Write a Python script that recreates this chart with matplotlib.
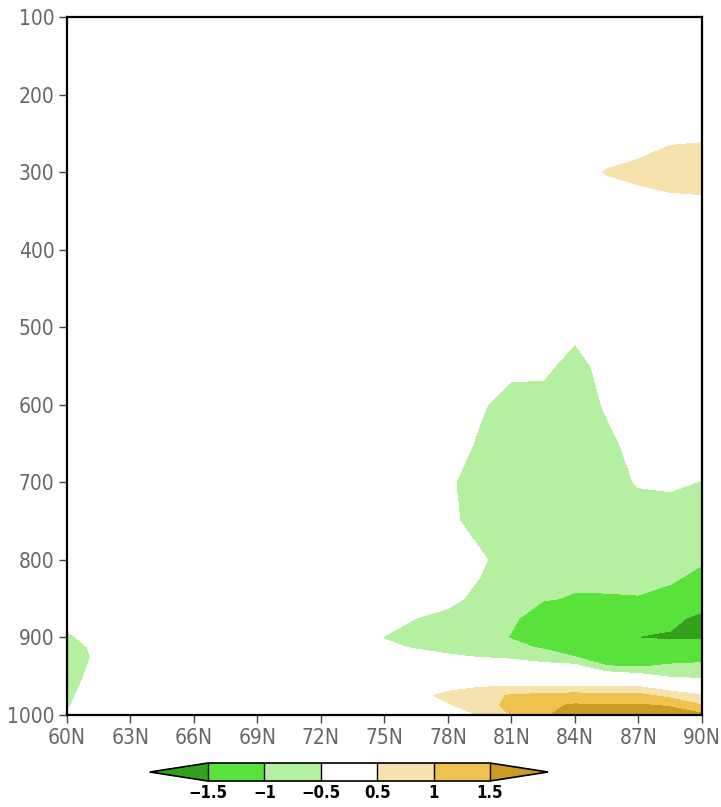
import numpy as np
import matplotlib
matplotlib.use("Agg")
import matplotlib.pyplot as plt

plt.rcParams["font.family"] = ["DejaVu Sans"]
plt.rcParams["font.stretch"] = "condensed"

# latitude grid (deg N) and pressure levels (hPa)
lats = [60, 61.5, 63, 64.5, 66, 67.5, 69, 70.5, 72, 73.5, 75,
        76.5, 78, 79.5, 81, 82.5, 84, 85.5, 87, 88.5, 90]
plev = [100, 150, 200, 250, 300, 350, 400, 450, 500, 550, 600, 650, 700,
        750, 800, 850, 875, 900, 912.5, 925, 937.5, 950, 962.5, 975, 987.5, 1000]

# anomaly field, one row per pressure level
p100 = [0.0, 0.0, 0.0, 0.0, 0.0, 0.0, 0.0, 0.0, 0.0, 0.0, 0.0, 0.0, 0.0, 0.0, 0.0, 0.0, 0.0, 0.0, 0.0, 0.1, 0.1]
p150 = [0.0, 0.0, 0.0, 0.0, 0.0, 0.0, 0.0, 0.0, 0.0, 0.0, 0.0, 0.0, 0.0, 0.0, 0.0, 0.0, 0.1, 0.1, 0.1, 0.1, 0.1]
p200 = [0.0, 0.0, 0.0, 0.0, 0.0, 0.0, 0.0, 0.0, 0.0, 0.0, 0.0, 0.0, 0.0, 0.0, 0.0, 0.1, 0.1, 0.1, 0.2, 0.2, 0.2]
p250 = [0.0, 0.0, 0.0, 0.0, 0.0, 0.0, 0.0, 0.0, 0.0, 0.0, 0.0, 0.0, 0.0, 0.0, 0.0, 0.1, 0.15, 0.25, 0.3, 0.4, 0.42]
p300 = [0.0, 0.0, 0.0, 0.0, 0.0, 0.0, 0.0, 0.0, 0.0, 0.0, 0.0, 0.0, 0.0, 0.0, 0.1, 0.2, 0.35, 0.52, 0.6, 0.72, 0.75]
p350 = [0.0, 0.0, 0.0, 0.0, 0.0, 0.0, 0.0, 0.0, 0.0, 0.0, 0.0, 0.0, 0.0, 0.0, 0.0, 0.1, 0.15, 0.25, 0.3, 0.3, 0.32]
p400 = [0.0, 0.0, 0.0, 0.0, 0.0, 0.0, 0.0, 0.0, 0.0, 0.0, 0.0, 0.0, 0.0, 0.0, 0.0, -0.1, -0.15, 0.0, 0.1, 0.1, 0.1]
p450 = [0.0, 0.0, 0.0, 0.0, 0.0, 0.0, 0.0, 0.0, 0.0, 0.0, 0.0, 0.0, 0.0, 0.0, -0.1, -0.2, -0.3, -0.15, 0.0, 0.0, 0.0]
p500 = [0.0, 0.0, 0.0, 0.0, 0.0, 0.0, 0.0, 0.0, 0.0, 0.0, 0.0, 0.0, 0.0, -0.1, -0.2, -0.3, -0.35, -0.3, -0.1, 0.0, 0.0]
p550 = [0.0, 0.0, 0.0, 0.0, 0.0, 0.0, 0.0, 0.0, 0.0, 0.0, 0.0, 0.0, -0.1, -0.25, -0.4, -0.38, -0.7, -0.3, -0.2, -0.1, -0.1]
p600 = [0.0, 0.0, 0.0, 0.0, 0.0, 0.0, 0.0, 0.0, 0.0, 0.0, 0.0, -0.05, -0.2, -0.45, -0.65, -0.7, -0.75, -0.45, -0.2, -0.1, -0.1]
p650 = [0.0, 0.0, 0.0, 0.0, 0.0, 0.0, 0.0, 0.0, 0.0, 0.0, 0.0, -0.1, -0.3, -0.55, -0.7, -0.75, -0.8, -0.6, -0.35, -0.25, -0.2]
p700 = [0.0, 0.0, 0.0, 0.0, 0.0, 0.0, 0.0, 0.0, 0.0, 0.0, -0.05, -0.2, -0.45, -0.65, -0.75, -0.8, -0.8, -0.7, -0.46, -0.42, -0.52]
p750 = [0.0, 0.0, 0.0, 0.0, 0.0, 0.0, 0.0, 0.0, 0.0, 0.0, -0.1, -0.25, -0.38, -0.7, -0.8, -0.85, -0.85, -0.8, -0.75, -0.75, -0.8]
p800 = [0.0, 0.0, 0.0, 0.0, 0.0, 0.0, 0.0, 0.0, 0.0, -0.05, -0.1, -0.2, -0.3, -0.42, -0.75, -0.9, -0.9, -0.88, -0.9, -0.93, -0.96]
p850 = [-0.1, 0.0, 0.0, 0.0, 0.0, 0.0, 0.0, 0.0, 0.0, -0.05, -0.15, -0.25, -0.4, -0.6, -0.75, -0.98, -1.02, -1.02, -1.01, -1.04, -1.25]
p875 = [-0.3, -0.1, 0.0, 0.0, 0.0, 0.0, 0.0, 0.0, -0.02, -0.1, -0.3, -0.5, -0.6, -0.75, -0.95, -1.15, -1.3, -1.3, -1.3, -1.4, -1.6]
p900 = [-0.6, -0.25, 0.0, 0.0, 0.0, 0.0, 0.0, 0.0, -0.05, -0.2, -0.52, -0.6, -0.7, -0.85, -1.02, -1.15, -1.3, -1.4, -1.51, -1.55, -1.52]
p912 = [-0.8, -0.33, 0.0, 0.0, 0.0, 0.0, 0.0, 0.0, 0.0, -0.15, -0.4, -0.55, -0.62, -0.75, -0.9, -1.05, -1.2, -1.3, -1.3, -1.35, -1.4]
p925 = [-0.9, -0.36, 0.0, 0.0, 0.0, 0.0, 0.0, 0.0, 0.0, -0.05, -0.2, -0.3, -0.45, -0.52, -0.6, -0.8, -1.0, -1.2, -1.2, -1.15, -1.15]
p937 = [-0.85, -0.3, 0.0, 0.0, 0.0, 0.0, 0.0, 0.0, 0.0, 0.0, -0.1, -0.1, -0.2, -0.2, -0.2, -0.3, -0.35, -0.98, -1.02, -0.95, -0.9]
p950 = [-0.78, -0.25, 0.0, 0.0, 0.0, 0.0, 0.0, 0.0, 0.0, 0.0, 0.0, 0.0, 0.05, 0.1, 0.1, 0.05, 0.0, -0.1, -0.3, -0.58, -0.62]
p962 = [-0.7, -0.2, 0.0, 0.0, 0.0, 0.0, 0.0, 0.0, 0.0, 0.0, 0.05, 0.2, 0.35, 0.45, 0.48, 0.48, 0.48, 0.48, 0.45, 0.1, -0.1]
p975 = [-0.62, -0.15, 0.0, 0.0, 0.0, 0.0, 0.0, 0.0, 0.0, 0.0, 0.1, 0.35, 0.62, 0.8, 1.05, 1.15, 1.2, 1.15, 1.15, 0.85, 0.55]
p987 = [-0.56, -0.1, 0.0, 0.0, 0.0, 0.0, 0.0, 0.0, 0.0, 0.0, 0.05, 0.2, 0.45, 0.75, 1.15, 1.4, 1.55, 1.52, 1.55, 1.45, 1.02]
p1000 = [-0.45, -0.05, 0.0, 0.0, 0.0, 0.0, 0.0, 0.0, 0.0, 0.0, 0.0, 0.05, 0.2, 0.52, 1.02, 1.45, 1.65, 1.7, 1.75, 1.75, 1.6]

field = np.array([p100, p150, p200, p250, p300, p350, p400, p450, p500, p550,
                  p600, p650, p700, p750, p800, p850, p875, p900, p912, p925,
                  p937, p950, p962, p975, p987, p1000])

levels = [-1.5, -1, -0.5, 0.5, 1, 1.5]
level_labels = ["\u22121.5", "\u22121", "\u22120.5", "0.5", "1", "1.5"]
colors = ["#35a01c", "#5ae23c", "#b4f0a0", "#ffffff", "#f6e2ad", "#efc24e", "#c99c22"]

xticks = [60, 63, 66, 69, 72, 75, 78, 81, 84, 87, 90]
xlabels = [f"{t}N" for t in xticks]
yticks = [100, 200, 300, 400, 500, 600, 700, 800, 900, 1000]

fig = plt.figure(figsize=(7.21, 8.07), dpi=100)
ax = fig.add_axes([0.0929, 0.114, 0.8807, 0.865])

cs = ax.contourf(lats, plev, field, levels=levels, colors=colors, extend="both")

ax.set_xlim(60, 90)
ax.set_ylim(1000, 100)
ax.set_xticks(xticks)
ax.set_xticklabels(xlabels)
ax.set_yticks(yticks)
ax.tick_params(direction="out", length=6, width=1, color="#444444",
               labelsize=15, labelcolor="#666666", pad=3)
for s in ax.spines.values():
    s.set_linewidth(1.6)
    s.set_color("black")

cax = fig.add_axes([0.208, 0.0322, 0.552, 0.0223])
cb = fig.colorbar(cs, cax=cax, orientation="horizontal", ticks=levels,
                  extendfrac=0.206, drawedges=True)
cb.set_ticklabels(level_labels)
cb.ax.tick_params(length=0, labelsize=12, pad=2)
for t in cb.ax.get_xticklabels():
    t.set_fontweight("bold")
cb.outline.set_linewidth(1.2)
cb.dividers.set_linewidth(1.0)

fig.savefig("out.png", dpi=100)
